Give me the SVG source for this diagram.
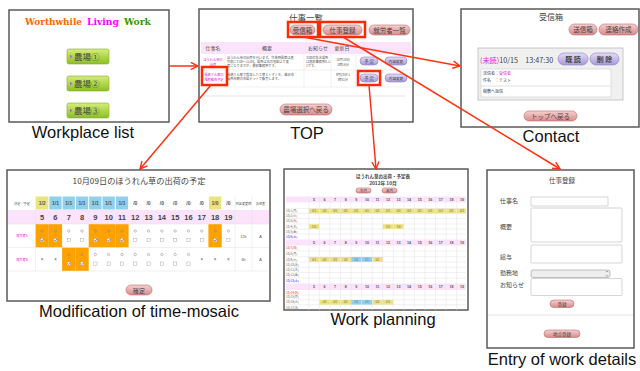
<svg xmlns="http://www.w3.org/2000/svg" width="640" height="371" viewBox="0 0 640 371">
<defs>
<linearGradient id="gGreen" x1="0" y1="0" x2="0" y2="1"><stop offset="0" stop-color="#d6ee7a"/><stop offset="1" stop-color="#8cbf22"/></linearGradient>
<linearGradient id="gPink" x1="0" y1="0" x2="0" y2="1"><stop offset="0" stop-color="#f7d0d0"/><stop offset="1" stop-color="#d98a8a"/></linearGradient>
<linearGradient id="gPurple" x1="0" y1="0" x2="0" y2="1"><stop offset="0" stop-color="#e4dcf6"/><stop offset="1" stop-color="#a999d6"/></linearGradient>
<marker id="ah" viewBox="0 0 10 10" refX="9" refY="5" markerWidth="9" markerHeight="9" markerUnits="userSpaceOnUse" orient="auto"><path d="M1,1 L9,5 L1,9" fill="none" stroke="#ff3311" stroke-width="1.6"/></marker>
</defs>
<style>
.panel{fill:#fff;stroke:#5a5a5a;stroke-width:1.5}
.cap{font-family:"Liberation Sans",Arial,sans-serif;font-size:16.5px;fill:#111;text-anchor:middle}
.jp{font-family:"Noto Sans CJK JP",sans-serif;fill:#444}
.mid{text-anchor:middle}
.pink{fill:url(#gPink);stroke:#b56b6b;stroke-width:0.6}
.purp{fill:url(#gPurple);stroke:#8d7cc0;stroke-width:0.6}
.green{fill:url(#gGreen);stroke:#86a82a;stroke-width:0.6}
.hl{fill:none;stroke:#ff2a00;stroke-width:2.5}
.conn{fill:none;stroke:#ff3311;stroke-width:1.5;marker-end:url(#ah)}
.grid{stroke:#e2e2e2;stroke-width:0.5;fill:none}
.hdr{fill:#fbe4fb}
.yel{fill:#ece27e}
.blu{fill:#8fd0ee}
.org{fill:#ffa200}
.tiny{font-family:"Noto Sans CJK JP",sans-serif;font-size:3.2px;fill:#555}
.mag{fill:#e020e0}
.box{fill:#fff;stroke:#bbb;stroke-width:0.6}
.deco{font-family:"DejaVu Serif",serif;font-weight:900;font-size:10px}
</style>

<!-- Workplace list -->
<g id="workplace-list">
<rect class="panel" x="9" y="10" width="160" height="112"/>
<text class="deco" x="25" y="25" fill="#ff6600" textLength="57" lengthAdjust="spacingAndGlyphs">Worthwhile</text>
<text class="deco" x="87" y="25" fill="#ff00ff" textLength="32" lengthAdjust="spacingAndGlyphs">Living</text>
<text class="deco" x="124" y="25" fill="#339900" textLength="27" lengthAdjust="spacingAndGlyphs">Work</text>
<rect class="green" x="67" y="49" width="42" height="15" rx="2"/>
<path d="M70,54.5 L72.5,56.5 L70,58.5Z" fill="#9a6fd0"/>
<text class="jp" x="74" y="60" font-size="8.5" fill="#222">農場①</text>
<rect class="green" x="67" y="76" width="42" height="15" rx="2"/>
<path d="M70,81.5 L72.5,83.5 L70,85.5Z" fill="#9a6fd0"/>
<text class="jp" x="74" y="87" font-size="8.5" fill="#222">農場②</text>
<rect class="green" x="67" y="103" width="42" height="15" rx="2"/>
<path d="M70,108.5 L72.5,110.5 L70,112.5Z" fill="#9a6fd0"/>
<text class="jp" x="74" y="114" font-size="8.5" fill="#222">農場③</text>
<text class="cap" x="83" y="138">Workplace list</text>
</g>

<!-- TOP -->
<g id="top">
<rect class="panel" x="199" y="9" width="214" height="113"/>
<text class="jp mid" x="306" y="21" font-size="8.5">仕事一覧</text>
<rect class="pink" x="290" y="25" width="25" height="10" rx="5"/>
<text class="jp mid" x="302.5" y="32.5" font-size="6.5" fill="#333">受信箱</text>
<rect class="pink" x="323" y="25" width="39" height="10" rx="5"/>
<text class="jp mid" x="342.5" y="32.5" font-size="6.5" fill="#333">仕事登録</text>
<rect class="pink" x="369" y="25" width="41" height="10" rx="5"/>
<text class="jp mid" x="389.5" y="32.5" font-size="6.5" fill="#333">就労者一覧</text>
<rect class="hdr" x="201" y="42" width="210" height="12"/>
<g class="jp" font-size="5">
<text class="mid" x="213" y="50">仕事名</text>
<text class="mid" x="267" y="50">概要</text>
<text class="mid" x="318" y="50">お知らせ</text>
<text class="mid" x="342" y="50">更新日</text>
</g>
<line class="grid" x1="201" y1="70" x2="411" y2="70"/>
<line class="grid" x1="201" y1="87" x2="411" y2="87"/>
<line class="grid" x1="225" y1="54" x2="225" y2="87"/>
<line class="grid" x1="304" y1="54" x2="304" y2="87"/>
<line class="grid" x1="331" y1="54" x2="331" y2="87"/>
<line class="grid" x1="356" y1="54" x2="356" y2="87"/>
<line class="grid" x1="381" y1="54" x2="381" y2="87"/>
<text class="tiny mag mid" x="213" y="61">ほうれん草の</text>
<text class="tiny mag mid" x="213" y="66">出荷</text>
<text class="tiny" x="227" y="59">ほうれん草の出荷を行います。作業時間帯は農</text>
<text class="tiny" x="227" y="63">作前に7:00～11:00。場所は右の地図より変</text>
<text class="tiny" x="227" y="67">更になりますが、最初事務所です。</text>
<text class="tiny" x="306" y="59">次回の集合場所</text>
<text class="tiny" x="306" y="63">は農政事務所3-1-</text>
<text class="tiny" x="306" y="67">1です。</text>
<text class="tiny mid" x="343" y="61">10月10日</text>
<text class="tiny mid" x="343" y="66">1時16分</text>
<rect class="purp" x="360" y="57" width="18" height="8" rx="4"/>
<text class="jp mid" x="369" y="63" font-size="4.5" fill="#333">予 定</text>
<rect class="purp" x="385" y="57" width="22" height="8" rx="4"/>
<text class="jp mid" x="396" y="62.5" font-size="3.6" fill="#333">内容変更</text>
<text class="tiny mag mid" x="214" y="76">長嶋さん家の</text>
<text class="tiny mag mid" x="214" y="81">堆肥散布予定</text>
<text class="tiny" x="227" y="76">長嶋さん家で栽培したネ葱とトマトを、越谷市</text>
<text class="tiny" x="227" y="80">福所市朝の市場テントで販売します。</text>
<text class="tiny mid" x="343" y="76">9月28日 1</text>
<text class="tiny mid" x="343" y="81">時51分</text>
<rect class="purp" x="360" y="74" width="18" height="8" rx="4"/>
<text class="jp mid" x="369" y="80" font-size="4.5" fill="#333">予 定</text>
<rect class="purp" x="385" y="74" width="22" height="8" rx="4"/>
<text class="jp mid" x="396" y="79.5" font-size="3.6" fill="#333">内容変更</text>
<line x1="202" y1="96" x2="405" y2="96" stroke="#ddd" stroke-width="0.8"/>
<rect class="pink" x="280" y="104" width="52" height="11" rx="5.5"/>
<text class="jp mid" x="306" y="112" font-size="6.5" fill="#333">農場選択へ戻る</text>
<rect class="hl" x="288" y="22" width="30" height="15"/>
<rect class="hl" x="320" y="22" width="45" height="15"/>
<rect class="hl" x="202" y="67" width="25" height="18"/>
<rect class="hl" x="358" y="71" width="22" height="14"/>
<text class="cap" x="307" y="139">TOP</text>
</g>

<!-- Contact -->
<g id="contact">
<rect class="panel" x="461" y="9" width="178" height="118"/>
<text class="jp mid" x="551" y="20" font-size="8">受信箱</text>
<rect class="pink" x="569" y="24" width="28" height="11" rx="5.5"/>
<text class="jp mid" x="583" y="32" font-size="6.5" fill="#333">送信箱</text>
<rect class="pink" x="599" y="24" width="39" height="11" rx="5.5"/>
<text class="jp mid" x="618.5" y="32" font-size="6.5" fill="#333">連絡作成</text>
<rect x="478" y="48" width="145" height="52" fill="#f0f0f0" stroke="#bbb" stroke-width="0.8"/>
<text class="jp" x="480" y="63" font-size="7.2" fill="#444"><tspan fill="#e020e0">(未読)</tspan>10/15　13:47:30</text>
<rect class="purp" x="558" y="53" width="30" height="12" rx="6"/>
<text class="jp mid" x="573" y="62" font-size="7" font-weight="bold" fill="#333">既 読</text>
<rect class="purp" x="590" y="53" width="29" height="12" rx="6"/>
<text class="jp mid" x="604.5" y="62" font-size="7" font-weight="bold" fill="#333">削 除</text>
<rect x="481" y="69" width="130" height="28" fill="#fff" stroke="#ccc" stroke-width="0.6"/>
<text class="jp" x="483" y="75" font-size="4">送信者：<tspan fill="#e020e0">受信者</tspan></text>
<text class="jp" x="483" y="81.5" font-size="4">件名　：テスト</text>
<line x1="481" y1="86" x2="611" y2="86" stroke="#ccc" stroke-width="0.6"/>
<text class="jp" x="483" y="93" font-size="4">稲敷へ返信</text>
<rect class="pink" x="524" y="111" width="53" height="10" rx="5"/>
<text class="jp mid" x="550.5" y="118.5" font-size="6.5" fill="#333">トップへ戻る</text>
<text class="cap" x="551" y="142">Contact</text>
</g>

<!-- Modification of time-mosaic -->
<g id="time-mosaic">
<rect class="panel" x="7" y="170" width="263" height="131"/>
<text class="jp mid" x="139" y="183.5" font-size="8.2">10月09日のほうれん草の出荷の予定</text>
<rect class="hdr" x="8" y="210" width="261" height="14"/>
<g>
<rect class="yel" x="36" y="196.5" width="12.3" height="13"/>
<rect class="blu" x="49.3" y="196.5" width="12.3" height="13"/>
<rect class="blu" x="62.6" y="196.5" width="12.3" height="13"/>
<rect class="blu" x="75.9" y="196.5" width="12.3" height="13"/>
<rect class="blu" x="89.2" y="196.5" width="12.3" height="13"/>
<rect class="blu" x="102.5" y="196.5" width="12.3" height="13"/>
<rect class="blu" x="115.8" y="196.5" width="12.3" height="13"/>
<rect class="yel" x="208.9" y="196.5" width="12.3" height="13"/>
</g>
<g font-family="Liberation Sans,Arial,sans-serif" font-size="5" font-weight="bold" fill="#555" text-anchor="middle">
<text x="42.15" y="205">1/2</text><text x="55.45" y="205">1/1</text><text x="68.75" y="205">1/1</text><text x="82.05" y="205">1/1</text><text x="95.35" y="205">1/1</text><text x="108.65" y="205">1/1</text><text x="121.95" y="205">1/1</text><text x="135.25" y="205">/0</text><text x="148.55" y="205">/0</text><text x="161.85" y="205">/0</text><text x="175.15" y="205">/0</text><text x="188.45" y="205">/0</text><text x="201.75" y="205">/0</text><text x="215.05" y="205">1/0</text><text x="228.35" y="205">/0</text>
</g>
<text class="tiny mid" x="22" y="205">決定／予定</text>
<text class="tiny mid" x="243.5" y="205">内容変更時</text>
<text class="tiny mid" x="260.5" y="205">責任者</text>
<g font-family="Liberation Sans,Arial,sans-serif" font-size="7.5" font-weight="bold" fill="#444" text-anchor="middle">
<text x="42.15" y="220">5</text><text x="55.45" y="220">6</text><text x="68.75" y="220">7</text><text x="82.05" y="220">8</text><text x="95.35" y="220">9</text><text x="108.65" y="220">10</text><text x="121.95" y="220">11</text><text x="135.25" y="220">12</text><text x="148.55" y="220">13</text><text x="161.85" y="220">14</text><text x="175.15" y="220">15</text><text x="188.45" y="220">16</text><text x="201.75" y="220">17</text><text x="215.05" y="220">18</text><text x="228.35" y="220">19</text>
</g>
<g>
<rect class="org" x="35.5" y="224" width="13.3" height="23.5"/>
<rect class="org" x="48.8" y="224" width="13.3" height="23.5"/>
<rect class="org" x="88.7" y="224" width="13.3" height="23.5"/>
<rect class="org" x="102" y="224" width="13.3" height="23.5"/>
<rect class="org" x="115.3" y="224" width="13.3" height="23.5"/>
<rect class="org" x="208.4" y="224" width="13.3" height="23.5"/>
<rect class="org" x="62.1" y="247.5" width="13.3" height="23.5"/>
<rect class="org" x="75.4" y="247.5" width="13.3" height="23.5"/>
</g>
<g class="grid">
<line x1="8" y1="224" x2="269" y2="224"/>
<line x1="8" y1="247.5" x2="269" y2="247.5"/>
<line x1="8" y1="271" x2="269" y2="271"/>
<line x1="35.5" y1="196" x2="35.5" y2="271"/>
<line x1="235" y1="196" x2="235" y2="271"/>
<line x1="252" y1="196" x2="252" y2="271"/>
</g>
<g fill="none" stroke="#888" stroke-width="0.5">
<circle cx="42.15" cy="231" r="1.2"/><circle cx="55.45" cy="231" r="1.2"/><circle cx="68.75" cy="231" r="1.2"/><circle cx="82.05" cy="231" r="1.2"/><circle cx="95.35" cy="231" r="1.2"/><circle cx="108.65" cy="231" r="1.2"/><circle cx="121.95" cy="231" r="1.2"/><circle cx="135.25" cy="231" r="1.2"/><circle cx="148.55" cy="231" r="1.2"/><circle cx="161.85" cy="231" r="1.2"/><circle cx="175.15" cy="231" r="1.2"/><circle cx="188.45" cy="231" r="1.2"/><circle cx="201.75" cy="231" r="1.2"/><circle cx="215.05" cy="231" r="1.2"/><circle cx="228.35" cy="231" r="1.2"/>
<circle cx="68.75" cy="254.5" r="1.2"/><circle cx="82.05" cy="254.5" r="1.2"/><circle cx="95.35" cy="254.5" r="1.2"/><circle cx="108.65" cy="254.5" r="1.2"/><circle cx="121.95" cy="254.5" r="1.2"/><circle cx="135.25" cy="254.5" r="1.2"/><circle cx="148.55" cy="254.5" r="1.2"/><circle cx="161.85" cy="254.5" r="1.2"/><circle cx="175.15" cy="254.5" r="1.2"/><circle cx="188.45" cy="254.5" r="1.2"/>
</g>
<g fill="#fff" stroke="#999" stroke-width="0.4">
<rect x="40.6" y="238.5" width="3.2" height="3.2"/><rect x="53.9" y="238.5" width="3.2" height="3.2"/><rect x="67.2" y="238.5" width="3.2" height="3.2"/><rect x="80.5" y="238.5" width="3.2" height="3.2"/><rect x="93.8" y="238.5" width="3.2" height="3.2"/><rect x="107.1" y="238.5" width="3.2" height="3.2"/><rect x="120.4" y="238.5" width="3.2" height="3.2"/><rect x="133.7" y="238.5" width="3.2" height="3.2"/><rect x="147" y="238.5" width="3.2" height="3.2"/><rect x="160.3" y="238.5" width="3.2" height="3.2"/><rect x="173.6" y="238.5" width="3.2" height="3.2"/><rect x="186.9" y="238.5" width="3.2" height="3.2"/><rect x="200.2" y="238.5" width="3.2" height="3.2"/><rect x="213.5" y="238.5" width="3.2" height="3.2"/><rect x="226.8" y="238.5" width="3.2" height="3.2"/>
<rect x="67.2" y="262" width="3.2" height="3.2"/><rect x="80.5" y="262" width="3.2" height="3.2"/><rect x="93.8" y="262" width="3.2" height="3.2"/><rect x="107.1" y="262" width="3.2" height="3.2"/><rect x="120.4" y="262" width="3.2" height="3.2"/><rect x="133.7" y="262" width="3.2" height="3.2"/><rect x="147" y="262" width="3.2" height="3.2"/><rect x="160.3" y="262" width="3.2" height="3.2"/><rect x="173.6" y="262" width="3.2" height="3.2"/><rect x="186.9" y="262" width="3.2" height="3.2"/>
</g>
<g fill="none" stroke="#3050a0" stroke-width="0.6">
<path d="M41.2,240 l0.9,1 l1.5,-2"/><path d="M54.5,240 l0.9,1 l1.5,-2"/><path d="M94.4,240 l0.9,1 l1.5,-2"/><path d="M107.7,240 l0.9,1 l1.5,-2"/><path d="M121,240 l0.9,1 l1.5,-2"/><path d="M214.1,240 l0.9,1 l1.5,-2"/><path d="M67.8,263.5 l0.9,1 l1.5,-2"/><path d="M81.1,263.5 l0.9,1 l1.5,-2"/>
</g>
<g font-family="Liberation Sans,Arial,sans-serif" font-size="4.5" fill="#555" text-anchor="middle">
<text x="42.15" y="261">×</text><text x="55.45" y="261">×</text><text x="201.75" y="261">×</text><text x="215.05" y="261">×</text><text x="228.35" y="261">×</text>
<text x="243.5" y="238" font-size="3.8">12h</text><text x="260.5" y="238" font-size="3.8">A</text>
<text x="243.5" y="261" font-size="3.8">6h</text><text x="260.5" y="261" font-size="3.8">A</text>
</g>
<text class="tiny mag mid" x="22" y="237">就労者A</text>
<text class="tiny mag mid" x="22" y="260.5">就労者B</text>
<rect class="pink" x="126" y="285" width="26" height="10" rx="5"/>
<text class="jp mid" x="139" y="292.5" font-size="6" fill="#333">確定</text>
<text class="cap" x="139" y="317">Modification of time-mosaic</text>
</g>

<!-- Work planning -->
<g id="work-planning">
<rect class="panel" x="284" y="169" width="184" height="141"/>
<text class="jp mid" x="383" y="177.5" font-size="4.5" font-weight="bold">ほうれん草の出荷・予定表</text>
<text class="jp mid" x="383" y="185" font-size="4.8" font-weight="bold">2012年 10月</text>
<rect class="pink" x="356" y="188" width="15" height="5" rx="2.5"/>
<text class="jp mid" x="363.5" y="192" font-size="3.5" fill="#333">先月</text>
<rect class="pink" x="382" y="188" width="15" height="5" rx="2.5"/>
<text class="jp mid" x="389.5" y="192" font-size="3.5" fill="#333">来月</text>
<rect class="hdr" x="286" y="196.5" width="180" height="6"/>
<rect class="hdr" x="286" y="239.5" width="180" height="6"/>
<rect class="hdr" x="286" y="283.5" width="180" height="6.5"/>
<g font-family="Liberation Sans,Arial,sans-serif" font-size="3.6" font-weight="bold" fill="#555" text-anchor="middle">
<text x="314" y="201">5</text><text x="324.6" y="201">6</text><text x="335.1" y="201">7</text><text x="345.7" y="201">8</text><text x="356.3" y="201">9</text><text x="366.9" y="201">10</text><text x="377.4" y="201">11</text><text x="388" y="201">12</text><text x="398.6" y="201">13</text><text x="409.1" y="201">14</text><text x="419.7" y="201">15</text><text x="430.3" y="201">16</text><text x="440.8" y="201">17</text><text x="451.4" y="201">18</text><text x="462" y="201">19</text>
<text x="314" y="244">5</text><text x="324.6" y="244">6</text><text x="335.1" y="244">7</text><text x="345.7" y="244">8</text><text x="356.3" y="244">9</text><text x="366.9" y="244">10</text><text x="377.4" y="244">11</text><text x="388" y="244">12</text><text x="398.6" y="244">13</text><text x="409.1" y="244">14</text><text x="419.7" y="244">15</text><text x="430.3" y="244">16</text><text x="440.8" y="244">17</text><text x="451.4" y="244">18</text><text x="462" y="244">19</text>
<text x="314" y="288.3">5</text><text x="324.6" y="288.3">6</text><text x="335.1" y="288.3">7</text><text x="345.7" y="288.3">8</text><text x="356.3" y="288.3">9</text><text x="366.9" y="288.3">10</text><text x="377.4" y="288.3">11</text><text x="388" y="288.3">12</text><text x="398.6" y="288.3">13</text><text x="409.1" y="288.3">14</text><text x="419.7" y="288.3">15</text><text x="430.3" y="288.3">16</text><text x="440.8" y="288.3">17</text><text x="451.4" y="288.3">18</text><text x="462" y="288.3">19</text>
</g>
<g class="grid">
<line x1="286" y1="208.5" x2="466" y2="208.5"/><line x1="286" y1="213.5" x2="466" y2="213.5"/><line x1="286" y1="218.5" x2="466" y2="218.5"/><line x1="286" y1="224" x2="466" y2="224"/><line x1="286" y1="229" x2="466" y2="229"/><line x1="286" y1="234" x2="466" y2="234"/>
<line x1="286" y1="251" x2="466" y2="251"/><line x1="286" y1="256.8" x2="466" y2="256.8"/><line x1="286" y1="262" x2="466" y2="262"/><line x1="286" y1="267.3" x2="466" y2="267.3"/><line x1="286" y1="272.6" x2="466" y2="272.6"/><line x1="286" y1="278" x2="466" y2="278"/>
<line x1="286" y1="295" x2="466" y2="295"/><line x1="286" y1="299.8" x2="466" y2="299.8"/><line x1="286" y1="304.8" x2="466" y2="304.8"/>
<line x1="308.8" y1="196.5" x2="308.8" y2="310"/><line x1="319.3" y1="196.5" x2="319.3" y2="310"/><line x1="329.9" y1="196.5" x2="329.9" y2="310"/><line x1="340.5" y1="196.5" x2="340.5" y2="310"/><line x1="351" y1="196.5" x2="351" y2="310"/><line x1="361.6" y1="196.5" x2="361.6" y2="310"/><line x1="372.2" y1="196.5" x2="372.2" y2="310"/><line x1="382.7" y1="196.5" x2="382.7" y2="310"/><line x1="393.3" y1="196.5" x2="393.3" y2="310"/><line x1="403.9" y1="196.5" x2="403.9" y2="310"/><line x1="414.4" y1="196.5" x2="414.4" y2="310"/><line x1="425" y1="196.5" x2="425" y2="310"/><line x1="435.6" y1="196.5" x2="435.6" y2="310"/><line x1="446.1" y1="196.5" x2="446.1" y2="310"/><line x1="456.7" y1="196.5" x2="456.7" y2="310"/>
</g>
<g>
<rect class="yel" x="309" y="208.7" width="10.2" height="4.6"/><rect class="yel" x="319.5" y="208.7" width="10.2" height="4.6"/><rect class="yel" x="330.1" y="208.7" width="10.2" height="4.6"/><rect class="yel" x="340.7" y="208.7" width="10.2" height="4.6"/><rect class="yel" x="351.2" y="208.7" width="10.2" height="4.6"/><rect class="yel" x="361.8" y="208.7" width="10.2" height="4.6"/><rect class="yel" x="372.4" y="208.7" width="10.2" height="4.6"/><rect class="yel" x="382.9" y="208.7" width="10.2" height="4.6"/><rect class="yel" x="393.5" y="208.7" width="10.2" height="4.6"/><rect class="yel" x="404.1" y="208.7" width="10.2" height="4.6"/><rect class="yel" x="414.6" y="208.7" width="10.2" height="4.6"/><rect class="yel" x="425.2" y="208.7" width="10.2" height="4.6"/><rect class="yel" x="435.8" y="208.7" width="10.2" height="4.6"/><rect class="yel" x="446.3" y="208.7" width="10.2" height="4.6"/><rect class="yel" x="456.9" y="208.7" width="9" height="4.6"/>
<rect class="yel" x="309" y="224.2" width="10.2" height="4.6"/><rect class="yel" x="382.9" y="224.2" width="10.2" height="4.6"/><rect class="yel" x="393.5" y="224.2" width="10.2" height="4.6"/>
<rect class="yel" x="309" y="257" width="10.2" height="4.8"/><rect class="yel" x="319.5" y="257" width="10.2" height="4.8"/><rect class="yel" x="330.1" y="257" width="10.2" height="4.8"/><rect class="yel" x="340.7" y="257" width="10.2" height="4.8"/><rect class="blu" x="351.2" y="257" width="10.2" height="4.8"/><rect class="blu" x="361.8" y="257" width="10.2" height="4.8"/><rect class="yel" x="372.4" y="257" width="10.2" height="4.8"/>
<rect class="yel" x="319.5" y="300" width="10.2" height="4.6"/><rect class="yel" x="330.1" y="300" width="10.2" height="4.6"/><rect class="yel" x="340.7" y="300" width="10.2" height="4.6"/><rect class="blu" x="351.2" y="300" width="10.2" height="4.6"/><rect class="blu" x="361.8" y="300" width="10.2" height="4.6"/><rect class="yel" x="372.4" y="300" width="10.2" height="4.6"/><rect class="yel" x="382.9" y="300" width="10.2" height="4.6"/>
</g>
<g font-family="Liberation Sans,Arial,sans-serif" font-size="2.8" fill="#666" text-anchor="middle">
<text x="314" y="212">0/1</text><text x="324.6" y="212">0/1</text><text x="335.1" y="212">0/1</text><text x="345.7" y="212">0/1</text><text x="356.3" y="212">0/1</text><text x="366.9" y="212">0/1</text><text x="377.4" y="212">0/1</text><text x="388" y="212">0/1</text><text x="398.6" y="212">0/1</text><text x="409.1" y="212">0/1</text><text x="419.7" y="212">0/1</text><text x="430.3" y="212">0/1</text><text x="440.8" y="212">0/1</text><text x="451.4" y="212">0/1</text><text x="462" y="212">0/1</text>
<text x="314" y="227.5">1/0</text><text x="388" y="227.5">1/0</text><text x="398.6" y="227.5">1/0</text>
<text x="314" y="260.5">0/1</text><text x="324.6" y="260.5">0/1</text><text x="335.1" y="260.5">0/1</text><text x="345.7" y="260.5">0/1</text><text x="356.3" y="260.5">1/1</text><text x="366.9" y="260.5">1/1</text><text x="377.4" y="260.5">0/1</text>
<text x="324.6" y="303.3">0/1</text><text x="335.1" y="303.3">0/1</text><text x="345.7" y="303.3">0/1</text><text x="356.3" y="303.3">1/1</text><text x="366.9" y="303.3">1/1</text><text x="377.4" y="303.3">0/1</text><text x="388" y="303.3">0/1</text>
</g>
<g font-family="Noto Sans CJK JP,sans-serif" font-size="3" fill="#666">
<text x="286" y="212">10/1(月)</text><text x="286" y="217">10/2(火)</text><text x="286" y="222">10/3(水)</text><text x="286" y="227.5">10/4(木)</text><text x="286" y="232.5">10/5(金)</text><text x="286" y="237.7" fill="#2222ee">10/6(土)</text>
<text x="286" y="249.3" fill="#ee2222">10/7(日)</text><text x="286" y="255">10/8(月)</text><text x="286" y="260.5">10/9(火)</text><text x="286" y="265.7">10/10(水)</text><text x="286" y="271">10/11(木)</text><text x="286" y="276.3">10/12(金)</text><text x="286" y="281.7" fill="#2222ee">10/13(土)</text>
<text x="286" y="293.5" fill="#ee2222">10/14(日)</text><text x="286" y="298.3">10/15(月)</text><text x="286" y="303.3">10/16(火)</text><text x="286" y="308.5">10/17(水)</text>
</g>
<text class="cap" x="383" y="325">Work planning</text>
</g>

<!-- Entry of work details -->
<g id="entry-work-details">
<rect class="panel" x="487" y="170" width="147" height="178"/>
<text class="jp mid" x="562" y="183" font-size="6.5">仕事登録</text>
<g class="jp" font-size="6">
<text x="500" y="203">仕事名</text>
<text x="500" y="229">概要</text>
<text x="500" y="259">給与</text>
<text x="500" y="274.5">勤務地</text>
<text x="500" y="287">お知らせ</text>
</g>
<rect class="box" x="531" y="197" width="77" height="9"/>
<rect class="box" x="531" y="208" width="91" height="34" rx="1"/>
<rect class="box" x="531" y="245" width="91" height="18" rx="1"/>
<rect x="531" y="270" width="79" height="7.5" rx="2" fill="#eee" stroke="#999" stroke-width="0.6"/>
<path d="M606,272.2 l1,-1 l1,1 M606,275.3 l1,1 l1,-1" fill="none" stroke="#333" stroke-width="0.5"/>
<rect class="box" x="531" y="278.5" width="91" height="17" rx="1"/>
<rect class="pink" x="550" y="300" width="24" height="7.5" rx="3.75"/>
<text class="jp mid" x="562" y="305.8" font-size="4.5" fill="#333">登録</text>
<line x1="488" y1="315" x2="633" y2="315" stroke="#ddd" stroke-width="0.8"/>
<rect class="pink" x="544" y="330" width="36" height="7.5" rx="3.75"/>
<text class="jp mid" x="562" y="335.8" font-size="4.5" fill="#333">地点登録</text>
<text class="cap" x="562" y="365">Entry of work details</text>
</g>

<!-- Connectors -->
<g id="connectors">
<line class="conn" x1="169" y1="66" x2="198" y2="66"/>
<line class="conn" x1="303" y1="37" x2="460" y2="66"/>
<line class="conn" x1="343" y1="37" x2="560" y2="169"/>
<line class="conn" x1="369" y1="85" x2="376" y2="169"/>
<line class="conn" x1="211" y1="85" x2="140" y2="169"/>
</g>
</svg>
